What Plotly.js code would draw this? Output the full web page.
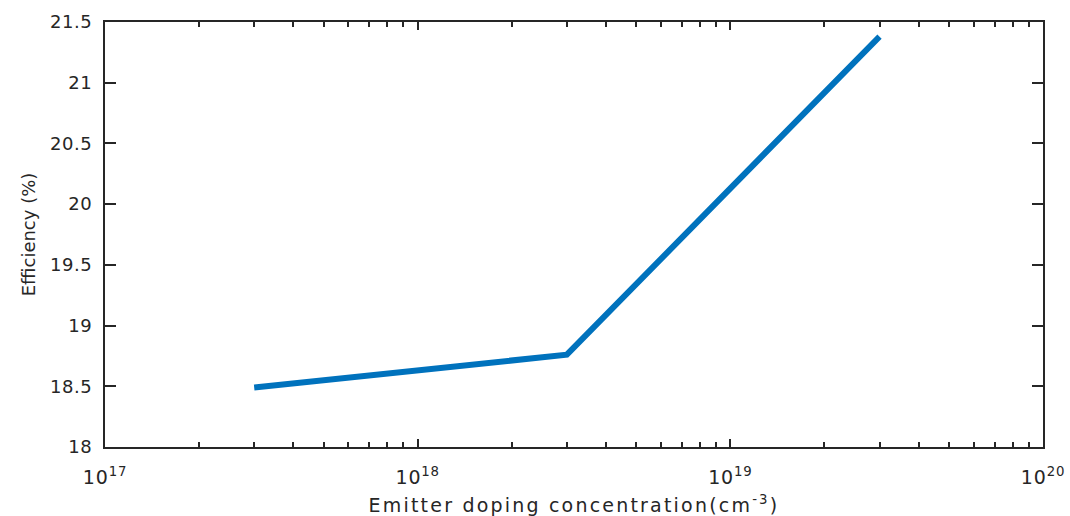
<!DOCTYPE html>
<html>
<head>
<meta charset="utf-8">
<script src="https://cdn.plot.ly/plotly-3.0.1.min.js"></script>
<style>
html,body{margin:0;padding:0;background:#fff;}
#chart{width:1070px;height:516px;}
#chart text.xtitle{letter-spacing:2.2px;}
#chart .xtick text{letter-spacing:0.8px;}
#chart .ytick text{letter-spacing:0.6px;}
</style>
</head>
<body>
<div id="chart"></div>
<script>
const dopingConcentration = [3e17, 3e18, 3e19];
const efficiency = [18.49, 18.76, 21.38];
const xTickVals = [1e17, 1e18, 1e19, 1e20];
const xTickText = ['10<sup>17</sup>', '10<sup>18</sup>', '10<sup>19</sup>', '10<sup>20</sup>'];
const yTickVals = [18, 18.5, 19, 19.5, 20, 20.5, 21, 21.5];
const yTickText = ['18', '18.5', '19', '19.5', '20', '20.5', '21', '21.5'];

const minorVals = [];
for (let e = 17; e < 20; e++) {
  for (let m = 2; m <= 9; m++) minorVals.push(m * Math.pow(10, e));
}

const axisColor = '#262626';
const fontFam = 'DejaVu Sans, Verdana, sans-serif';

Plotly.newPlot('chart', [{
  x: dopingConcentration,
  y: efficiency,
  type: 'scatter',
  mode: 'lines',
  line: {color: '#0072BD', width: 6},
  showlegend: false
}], {
  width: 1070, height: 516,
  margin: {l: 105, r: 27, t: 22, b: 69},
  paper_bgcolor: '#fff', plot_bgcolor: '#fff',
  font: {family: fontFam, color: axisColor, size: 18},
  xaxis: {
    type: 'log', range: [17, 20],
    tickvals: xTickVals, ticktext: xTickText,
    ticks: 'inside', ticklen: 8, tickwidth: 1.5, tickcolor: axisColor,
    minor: {tickvals: minorVals, ticks: 'inside', ticklen: 5, tickwidth: 1.5, tickcolor: axisColor, showgrid: false},
    showline: true, linecolor: axisColor, linewidth: 2, mirror: 'ticks',
    showgrid: false, zeroline: false,
    ticklabelstandoff: 12,
    tickfont: {size: 19, family: fontFam, color: axisColor},
    title: {text: 'Emitter doping concentration(cm<sup>-3</sup>)', font: {size: 19, family: fontFam, color: axisColor}, standoff: 12}
  },
  yaxis: {
    range: [18, 21.5],
    tickvals: yTickVals, ticktext: yTickText,
    ticks: 'inside', ticklen: 11, tickwidth: 1.5, tickcolor: axisColor,
    showline: true, linecolor: axisColor, linewidth: 2, mirror: 'ticks',
    showgrid: false, zeroline: false,
    ticklabelstandoff: 7,
    tickfont: {size: 18, family: fontFam, color: axisColor},
    title: {text: 'Efficiency (%)', font: {size: 18, family: fontFam, color: axisColor}, standoff: 12}
  }
}, {displayModeBar: false});
</script>
</body>
</html>
